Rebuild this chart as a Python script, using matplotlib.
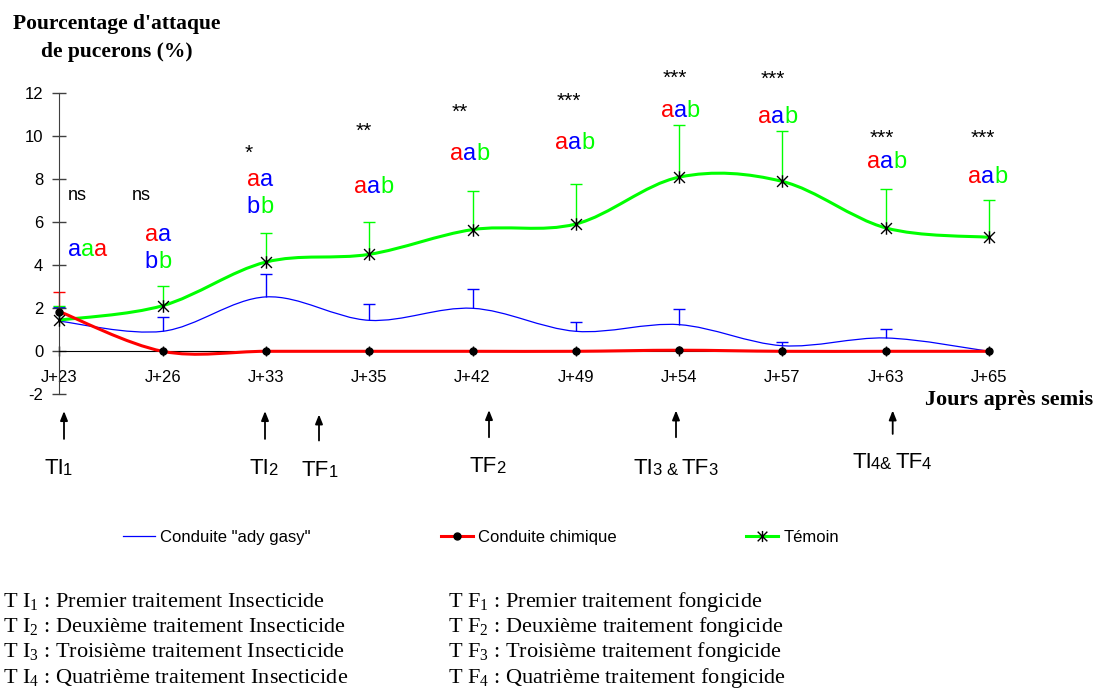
import numpy as np
import matplotlib
matplotlib.use('Agg')
import matplotlib.pyplot as plt
from matplotlib.path import Path
from matplotlib.patches import PathPatch
from matplotlib.lines import Line2D

plt.rcParams['font.family'] = ['Liberation Sans', 'DejaVu Sans']
plt.rcParams['axes.unicode_minus'] = False
plt.rcParams['mathtext.fontset'] = 'custom'
plt.rcParams['mathtext.rm'] = 'Liberation Serif'
plt.rcParams['mathtext.it'] = 'Liberation Serif:italic'
plt.rcParams['mathtext.bf'] = 'Liberation Serif:bold'

# ---------------- data ----------------
days = ['J+23', 'J+26', 'J+33', 'J+35', 'J+42', 'J+49', 'J+54', 'J+57', 'J+63', 'J+65']
ady_gasy = [1.40, 0.93, 2.53, 1.44, 2.00, 0.93, 1.24, 0.26, 0.62, 0.00]
ady_gasy_err = [0.65, 0.67, 1.08, 0.78, 0.92, 0.45, 0.71, 0.17, 0.40, 0.00]
chimique = [1.85, 0.00, 0.00, 0.00, 0.00, 0.00, 0.05, 0.00, 0.00, 0.00]
chimique_err = [0.90, 0.00, 0.00, 0.00, 0.00, 0.00, 0.00, 0.00, 0.00, 0.00]
temoin = [1.45, 2.12, 4.15, 4.51, 5.66, 5.92, 8.10, 7.90, 5.74, 5.30]
temoin_err = [0.65, 0.92, 1.37, 1.52, 1.81, 1.88, 2.41, 2.36, 1.83, 1.76]

signif = ['ns', 'ns', '*', '**', '**', '***', '***', '***', '***', '***']
# letter groups per day: (letters, colour codes)
letter_rows = [
    [('aaa', 'BGR')],
    [('aa', 'RB'), ('bb', 'BG')],
    [('aa', 'RB'), ('bb', 'BG')],
    [('aab', 'RBG')], [('aab', 'RBG')], [('aab', 'RBG')], [('aab', 'RBG')],
    [('aab', 'RBG')], [('aab', 'RBG')], [('aab', 'RBG')],
]
legend_labels = ['Conduite "ady gasy"', 'Conduite chimique', 'Témoin']
footnotes_I = ['Premier traitement Insecticide', 'Deuxième traitement Insecticide',
               'Troisième traitement Insecticide', 'Quatrième traitement Insecticide']
footnotes_F = ['Premier traitement fongicide', 'Deuxième traitement fongicide',
               'Troisième traitement fongicide', 'Quatrième traitement fongicide']

# ---------------- annotation positions (category units / value units) ----------------
signif_pos = [(0.171, 7.26), (0.791, 7.26), (1.830, 9.19), (2.943, 10.23), (3.879, 11.13),
              (4.937, 11.64), (5.960, 12.68), (6.906, 12.63), (7.961, 9.89), (8.939, 9.89)]
letter_pos = [[(0.270, 4.72)], [(0.955, 5.41), (0.955, 4.16)], [(1.943, 7.97), (1.943, 6.69)],
              [(3.044, 7.62)], [(3.976, 9.20)], [(4.992, 9.67)], [(6.012, 11.18)],
              [(6.953, 10.90)], [(8.010, 8.81)], [(8.986, 8.11)]]

RED, BLUE, GREEN = '#FF0000', '#0000FF', '#00FF00'
CMAP = {'R': RED, 'B': BLUE, 'G': GREEN}

W, H = 1095, 689
fig = plt.figure(figsize=(W / 100, H / 100), dpi=100)
X0, X9 = 59.3, 989.0
Y12, YM2 = 93.3, 394.3
ax = fig.add_axes([X0 / W, 1 - YM2 / H, (X9 - X0) / W, (YM2 - Y12) / H])
ax.set_xlim(0, 9)
ax.set_ylim(-2, 12)
x = np.arange(len(days))


def smooth_path(xs, ys):
    pts = np.column_stack([xs, ys]).astype(float)
    n = len(pts)
    verts = [pts[0]]
    codes = [Path.MOVETO]
    for i in range(n - 1):
        p0 = pts[max(i - 1, 0)]
        p1 = pts[i]
        p2 = pts[i + 1]
        p3 = pts[min(i + 2, n - 1)]
        c1 = p1 + (p2 - p0) / 6.0
        c2 = p2 - (p3 - p1) / 6.0
        verts += [c1, c2, p2]
        codes += [Path.CURVE4] * 3
    return Path(verts, codes)


def draw_err(vals, errs, color):
    v = np.asarray(vals, float)
    e = np.asarray(errs, float)
    m = e > 0
    c = ax.errorbar(x[m], v[m], yerr=[np.zeros(m.sum()), e[m]], fmt='none',
                    ecolor=color, elinewidth=1, capsize=4, capthick=1, zorder=2)
    caps = c.lines[1]
    if len(caps) == 2:
        caps[0].set_visible(False)
    for art in c.get_children():
        art.set_clip_on(False)


draw_err(ady_gasy, ady_gasy_err, BLUE)
draw_err(temoin, temoin_err, GREEN)
draw_err(chimique, chimique_err, RED)

for vals, col, lw, z in [(ady_gasy, BLUE, 0.9, 3), (temoin, GREEN, 2.2, 4), (chimique, RED, 2.2, 5)]:
    p = PathPatch(smooth_path(x, vals), facecolor='none', edgecolor=col, lw=lw,
                  transform=ax.transData, zorder=z, clip_on=False)
    ax.add_patch(p)

star = Path([(-1, -1), (1, 1), (-1, 1), (1, -1), (0, -1.15), (0, 1.15)],
            [Path.MOVETO, Path.LINETO, Path.MOVETO, Path.LINETO, Path.MOVETO, Path.LINETO])
ax.plot(x, temoin, linestyle='none', marker=star, ms=9, mec='k', mfc='none', mew=1,
        zorder=7, clip_on=False)
ax.plot(x, chimique, linestyle='none', marker='o', ms=5, mec='k', mfc='k', zorder=7, clip_on=False)

# axes styling
for s in ['top', 'right']:
    ax.spines[s].set_visible(False)
ax.spines['bottom'].set_position(('data', 0))
ax.spines['bottom'].set_color('black')
ax.spines['left'].set_color('#404040')
ax.set_xticks(x)
ax.set_xticklabels(days)
ax.set_yticks(range(-2, 13, 2))
ax.tick_params(axis='x', direction='inout', length=6.5, width=1, pad=10.5, labelsize=12, color='black')
ax.tick_params(axis='y', direction='inout', length=10, width=1, pad=6.5, labelsize=12, color='#404040')

# significance and letters
for s, (sx, sy) in zip(signif, signif_pos):
    fs = 13 if s == 'ns' else 15
    ax.text(sx, sy, s, fontsize=fs, ha='center', va='center', color='black')

LFS = 17
adv = 0.556 * LFS
for rows, poss in zip(letter_rows, letter_pos):
    for (letters, cols), (lx, ly) in zip(rows, poss):
        n = len(letters)
        for i, (ch, cc) in enumerate(zip(letters, cols)):
            ax.annotate(ch, xy=(lx, ly), xytext=((i - (n - 1) / 2) * adv, 0),
                        textcoords='offset points', ha='center', va='center',
                        fontsize=LFS, color=CMAP[cc], annotation_clip=False)

# axis titles
serif = ['Liberation Serif', 'DejaVu Serif']
fig.text(117 / W, 1 - 29.3 / H, "Pourcentage d'attaque", family=serif, weight='bold',
         fontsize=15.5, ha='center', va='baseline')
fig.text(117 / W, 1 - 56.7 / H, "de pucerons (%)", family=serif, weight='bold',
         fontsize=15.5, ha='center', va='baseline')
fig.text(1093 / W, 1 - 405 / H, "Jours après semis", family=serif, weight='bold',
         fontsize=16, ha='right', va='baseline')

# treatment arrows
arrows = [(64, 441.7, 408.3), (265, 441.7, 408.3), (319, 443.3, 411.7), (489, 440, 407.3),
          (676, 440, 407.7), (892.7, 436.7, 407.7)]
for ax_px, yb, yt in arrows:
    fig.add_artist(matplotlib.patches.FancyArrowPatch(
        (ax_px / W, 1 - yb / H), (ax_px / W, 1 - yt / H), transform=fig.transFigure,
        arrowstyle='-|>,head_length=0.55,head_width=0.22', mutation_scale=10,
        lw=1.3, color='black'))


def chain(x_px, y_px, pieces):
    prev = fig.text(x_px / W, 1 - y_px / H, pieces[0][0], fontsize=pieces[0][1],
                    ha='left', va='baseline')
    prev_fs = pieces[0][1]
    for txt, fs, gap in pieces[1:]:
        prev = ax.annotate(txt, xy=(1, 0), xycoords=prev, xytext=(gap, 0.21 * (prev_fs - fs)),
                           textcoords='offset points', ha='left', va='bottom', fontsize=fs,
                           annotation_clip=False)
        prev_fs = fs


chain(44.6, 474.3, [('TI', 16, 0), ('1', 12, -0.8)])
chain(249, 474.3, [('TI', 16, 0), ('2', 12, -0.8)])
chain(301.8, 476, [('TF', 16, 0), ('1', 12, 0)])
chain(469.6, 472.3, [('TF', 16, 0), ('2', 12, -0.5)])
chain(633.3, 474.3, [('TI', 16, 0), ('3', 12, -0.8), ('&', 12, 3.5), ('TF', 16, 3.0), ('3', 12, -0.5)])
chain(852.3, 467.7, [('TI', 16, 0), ('4', 12, -0.8), ('&', 12, -0.3), ('TF', 16, 3.0), ('4', 12, -0.5)])

# legend
h_blue = Line2D([], [], color=BLUE, lw=0.9)
h_red = Line2D([], [], color=RED, lw=2.2, marker='o', ms=5, mfc='k', mec='k')
h_green = Line2D([], [], color=GREEN, lw=2.2, marker=star, ms=8, mec='k', mfc='none', mew=1)
fig.legend([h_blue, h_red, h_green], legend_labels, loc='center left',
           bbox_to_anchor=(123 / W, 1 - 537.7 / H), ncol=3, frameon=False, fontsize=12,
           handlelength=1.92, handletextpad=0.3, columnspacing=7.8, borderaxespad=0,
           borderpad=0, numpoints=1)

# footnotes
base = [606.5, 632, 657.5, 683]
for i, (ti, tf) in enumerate(zip(footnotes_I, footnotes_F)):
    fig.text(3 / W, 1 - base[i] / H, r'T $\mathrm{I}_{%d}$ : %s' % (i + 1, ti), family=serif,
             fontsize=16, ha='left', va='baseline')
    fig.text(448 / W, 1 - base[i] / H, r'T $\mathrm{F}_{%d}$ : %s' % (i + 1, tf), family=serif,
             fontsize=16, ha='left', va='baseline')

fig.savefig('out.png', dpi=100)
